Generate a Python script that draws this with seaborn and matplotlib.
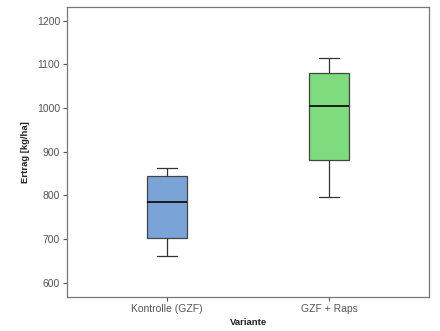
import numpy as np
import pandas as pd
import matplotlib
matplotlib.use("Agg")
import matplotlib.pyplot as plt
import seaborn as sns

categories = ["Kontrolle (GZF)", "GZF + Raps"]
kontrolle = [662, 701, 784, 845, 862]
gzf_raps = [795, 880, 1004, 1080, 1115]
yticks = [600, 700, 800, 900, 1000, 1100, 1200]
colours = ["#7aa3d8", "#7edb7e"]

df = pd.DataFrame({
    "Variante": [categories[0]] * len(kontrolle) + [categories[1]] * len(gzf_raps),
    "Ertrag": kontrolle + gzf_raps,
})

sns.set_style("white")
plt.rcParams["font.family"] = ["Liberation Sans", "DejaVu Sans"]

fig = plt.figure(figsize=(4.4, 3.31), dpi=100)
ax = fig.add_axes([67 / 440, 34 / 331, 362 / 440, 290 / 331])

sns.boxplot(data=df, x="Variante", y="Ertrag", hue="Variante", palette=colours,
            saturation=1, width=0.25, whis=1.5, linewidth=0.9, legend=False, ax=ax,
            boxprops=dict(edgecolor="#444444"),
            whiskerprops=dict(color="#333333"),
            capprops=dict(color="#333333"),
            medianprops=dict(color="#111111", linewidth=1.3),
            showfliers=False)

ax.set_xlim(-0.617, 1.617)
ax.set_ylim(567, 1231)
ax.set_yticks(yticks)
ax.tick_params(axis="both", direction="out", length=3, width=0.8, color="#555555",
               labelcolor="#555555", labelsize=7.5, left=True, bottom=True, pad=2)
for s in ax.spines.values():
    s.set_color("#777777")
    s.set_linewidth(0.9)

ax.set_ylabel("Ertrag [kg/ha]", fontsize=6.8, fontweight="bold", color="#222222", labelpad=5)
ax.set_xlabel("Variante", fontsize=6.8, fontweight="bold", color="#222222", labelpad=3)

fig.savefig("out.png", dpi=100)
